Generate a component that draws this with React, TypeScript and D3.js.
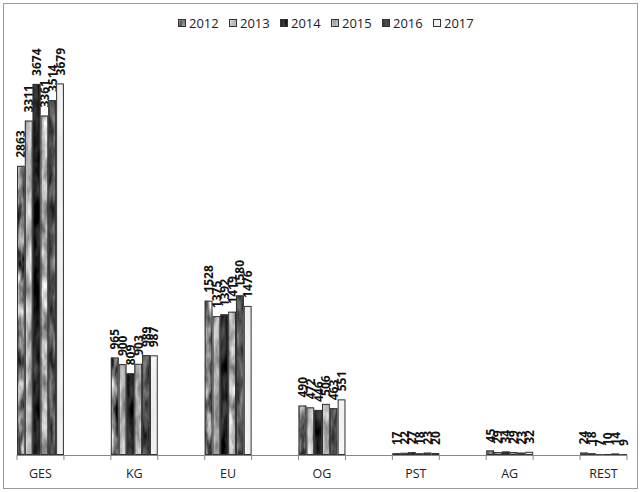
import React, { useEffect } from 'react';
import * as d3 from 'd3';

const categories = ['GES', 'KG', 'EU', 'OG', 'PST', 'AG', 'REST'];
const years = ['2012', '2013', '2014', '2015', '2016', '2017'];

const values2012 = [2863, 965, 1528, 490, 17, 45, 24];
const values2013 = [3311, 900, 1375, 472, 22, 29, 18];
const values2014 = [3674, 809, 1392, 446, 27, 34, 7];
const values2015 = [3361, 903, 1419, 506, 18, 29, 10];
const values2016 = [3514, 989, 1580, 463, 23, 23, 14];
const values2017 = [3679, 987, 1476, 551, 20, 32, 9];

const series = [values2012, values2013, values2014, values2015, values2016, values2017];

// texture per year: gray level, contrast, noise frequency
const textures = [
  { base: 0.5, amp: 0.9, freq: '0.14 0.04' },
  { base: 0.72, amp: 0.45, freq: '0.14 0.04' },
  { base: 0.12, amp: 0.35, freq: '0.15 0.04' },
  { base: 0.7, amp: 0.55, freq: '0.12 0.05' },
  { base: 0.32, amp: 0.5, freq: '0.15 0.04' },
  { base: 0.94, amp: 0.05, freq: '0.1 0.03' },
];

const W = 640;
const H = 492;
const font = '"Open Sans", "Liberation Sans", sans-serif';

const App = () => {
  useEffect(() => {
    document.body.style.margin = '0';
  }, []);

  // 13 slots: every other one holds a group
  const slot = d3.scaleBand<number>()
    .domain(d3.range(categories.length * 2 - 1))
    .range([17, 627])
    .padding(0);

  const inner = d3.scaleBand<string>()
    .domain(years)
    .range([0, slot.bandwidth()])
    .padding(0);

  const y = d3.scaleLinear().domain([0, 4000]).range([455, 51]);

  const tickXs = [...slot.domain().map(d => slot(d) as number), slot.range()[1]];

  return (
    <svg width={W} height={H} style={{ display: 'block' }}>
      <defs>
        {textures.map((t, i) => {
          const a = (t.amp * 1.6).toFixed(3);
          const b = (t.base - t.amp * 0.8).toFixed(3);
          const row = `${a} 0 0 0 ${b}`;
          return (
            <filter key={i} id={`tex${i}`} x="0" y="0" width="1" height="1" colorInterpolationFilters="sRGB">
              <feTurbulence type="fractalNoise" baseFrequency={t.freq} numOctaves={3} seed={i * 7 + 3} result="n" />
              <feColorMatrix in="n" type="matrix" values={`${row} ${row} ${row} 0 0 0 0 1`} result="g" />
              <feComposite in="g" in2="SourceGraphic" operator="in" />
            </filter>
          );
        })}
      </defs>

      <rect x={3.5} y={3.5} width={634} height={485} fill="white" stroke="#9a9a9a" />

      {/* legend */}
      {years.map((yr, i) => {
        const lx = 178 + i * 51;
        return (
          <g key={yr}>
            <rect x={lx} y={19} width={8} height={8} fill="#888" filter={`url(#tex${i})`} />
            <rect x={lx + 0.5} y={19.5} width={7} height={7} fill="none" stroke="#333" />
            <text x={lx + 11} y={27.5} fontFamily={font} fontSize={13} fill="#222">{yr}</text>
          </g>
        );
      })}

      {/* bars */}
      {categories.map((cat, ci) => {
        const x0 = slot(ci * 2) as number;
        return (
          <g key={cat}>
            {years.map((yr, si) => {
              const v = series[si][ci];
              const bx = x0 + (inner(yr) as number);
              const bw = inner.bandwidth();
              const top = y(v);
              const h = y(0) - top;
              return (
                <g key={yr}>
                  <rect x={bx} y={top} width={bw} height={h} fill="#888" filter={`url(#tex${si})`} />
                  <rect x={bx + 0.5} y={top + 0.5} width={bw - 1} height={Math.max(h - 1, 0.5)} fill="none" stroke="#333" strokeWidth={1} />
                  <text
                    transform={`translate(${bx + bw / 2 + 4.5},${top - 8}) rotate(-90)`}
                    fontFamily={font}
                    fontSize={12}
                    fontWeight="bold"
                    fill="#111"
                  >
                    {v}
                  </text>
                </g>
              );
            })}
          </g>
        );
      })}

      {/* x axis */}
      <line x1={slot.range()[0]} x2={slot.range()[1]} y1={y(0) + 0.5} y2={y(0) + 0.5} stroke="#888" />
      {tickXs.map((tx, i) => (
        <line key={i} x1={tx} x2={tx} y1={y(0)} y2={y(0) + 5} stroke="#888" />
      ))}
      {categories.map((cat, ci) => (
        <text
          key={cat}
          x={(slot(ci * 2) as number) + slot.bandwidth() / 2}
          y={478}
          textAnchor="middle"
          fontFamily={font}
          fontSize={12.5}
          fill="#222"
        >
          {cat}
        </text>
      ))}
    </svg>
  );
};

export default App;
